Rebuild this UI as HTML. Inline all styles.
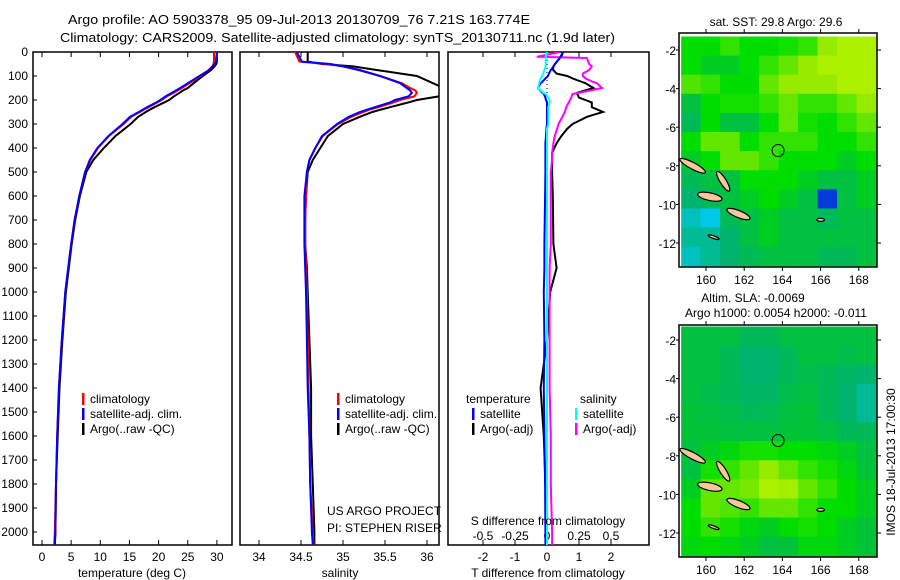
<!DOCTYPE html>
<html><head><meta charset="utf-8">
<style>
html,body{margin:0;padding:0;background:#fff;}
svg{display:block;font-family:"Liberation Sans",sans-serif;}
text{font-size:12px;fill:#000;}
</style></head>
<body>
<svg id="chart" width="900" height="580" viewBox="0 0 900 580" xmlns="http://www.w3.org/2000/svg">
<text x="68" y="24" textLength="462" lengthAdjust="spacingAndGlyphs" style="font-size:13px">Argo profile: AO 5903378_95 09-Jul-2013 20130709_76 7.21S 163.774E</text>
<text x="60" y="42" textLength="555" lengthAdjust="spacingAndGlyphs" style="font-size:13px">Climatology: CARS2009. Satellite-adjusted climatology: synTS_20130711.nc (1.9d later)</text>
<g id="g"></g>
</svg>
<script>
// ---- data ----
const depthTicks = [0,100,200,300,400,500,600,700,800,900,1000,1100,1200,1300,1400,1500,1600,1700,1800,1900,2000];
const tempTicks = [0,5,10,15,20,25,30];
const salTicks = [34,34.5,35,35.5,36];
const salTickLabels = ["34","34.5","35","35.5","36"];
const tdTicks = [-2,-1,0,1,2];
const sdTicks = [-0.5,-0.25,0,0.25,0.5];
const sdTickLabels = ["-0.5","-0.25","0","0.25","0.5"];

const profDepth = [0,40,50,60,75,100,130,150,160,170,185,200,210,230,240,250,270,300,350,400,450,500,600,700,800,900,1000,1200,1400,1600,1800,2000,2055];
const tempClim  = [29.5,29.5,29.4,29.2,28.6,27.2,25.3,24,23.3,22.6,21.4,20.5,19.8,18.3,17.5,16.8,15.3,14.0,11.5,9.6,8.3,7.4,6.4,5.6,5.0,4.5,4.0,3.4,2.9,2.6,2.4,2.2,2.1];
const tempSat   = [30.0,29.8,29.6,29.3,28.7,27.0,25.0,23.7,23.0,22.3,21.2,20.3,19.6,18.0,17.3,16.6,15.1,13.8,11.4,9.5,8.2,7.4,6.4,5.6,5.0,4.5,4.0,3.4,2.9,2.6,2.4,2.3,2.2];
const tempArgo  = [30.0,30.0,29.9,29.6,29.0,27.6,26.0,25.0,24.2,23.6,22.6,21.8,21.0,19.3,18.5,17.8,16.5,15.2,12.6,10.6,8.8,7.6,6.5,5.7,5.1,4.6,4.1,3.5,3.0,2.7,2.4,2.3,2.2];
const salClim   = [34.43,34.48,34.8,35.0,35.18,35.44,35.7,35.8,35.86,35.88,35.85,35.68,35.6,35.42,35.32,35.24,35.1,34.94,34.76,34.67,34.6,34.57,34.56,34.55,34.55,34.56,34.57,34.58,34.59,34.6,34.61,34.64,34.65];
const salSat    = [34.45,34.51,34.85,35.0,35.2,35.44,35.68,35.76,35.8,35.82,35.78,35.62,35.56,35.38,35.29,35.2,35.07,34.93,34.75,34.67,34.6,34.57,34.54,34.54,34.54,34.55,34.56,34.57,34.58,34.6,34.61,34.63,34.64];
const salArgo   = [34.58,34.58,34.75,35.12,35.4,35.88,36.07,36.2,36.25,36.25,36.14,35.88,35.78,35.56,35.45,35.35,35.2,35.0,34.82,34.73,34.64,34.58,34.56,34.55,34.55,34.57,34.58,34.6,34.62,34.62,34.64,34.66,34.66];

const diffDepth = [0,20,25,50,60,75,90,100,110,125,130,150,170,175,190,200,210,230,250,270,290,300,320,350,380,420,450,500,600,800,900,1000,1200,1400,1600,1800,2000,2055];
const tDiffSat  = [0.5,0.42,0.4,0.25,0.2,0.12,0.06,0.03,-0.05,-0.15,-0.2,-0.28,-0.15,-0.1,-0.05,-0.03,0,0,0,0,0,0,-0.02,-0.03,-0.05,-0.05,-0.05,-0.05,-0.06,-0.08,-0.08,-0.1,-0.08,-0.1,-0.08,-0.06,-0.05,-0.05];
const tDiffArgo = [0.5,0.45,0.4,0.25,0.2,0.19,0.3,0.63,0.8,1.1,1.2,1.45,0.95,0.95,1.0,1.2,1.4,1.4,1.75,1.25,0.95,0.8,0.63,0.45,0.3,0.16,0.16,0.16,0.18,0.2,0.3,0.1,0.0,-0.2,-0.1,-0.05,0.0,0.0];
const sDiffSat  = [0.0,-0.01,-0.01,-0.01,-0.01,-0.02,-0.03,-0.04,-0.05,-0.06,-0.06,-0.07,-0.03,-0.01,0.01,0.02,0.02,0.01,0.01,0.01,0.01,0.01,0.0,0.0,0.0,0.0,0.0,0.0,0.0,0.0,0.0,0.0,0.0,0.0,0.0,0.0,0.0,0.0];
const sDiffArgo = [0.1,-0.08,0.31,0.33,0.35,0.33,0.28,0.28,0.3,0.36,0.39,0.43,0.25,0.2,0.19,0.18,0.17,0.15,0.14,0.12,0.1,0.09,0.08,0.06,0.05,0.04,0.04,0.03,0.03,0.03,0.02,0.02,0.02,0.02,0.03,0.03,0.04,0.04];

const lonTicks = [160,162,164,166,168];
const latTicks = [-2,-4,-6,-8,-10,-12];
const gridLon0 = 158.7, gridLat0 = -1.3, gridStep = 1.02, gridLatStep = 0.99;
const sstGrid = [
 [0.7,0.7,0.75,0.7,0.7,0.72,0.75,0.85,0.9,0.9],
 [0.7,0.65,0.65,0.7,0.75,0.8,0.85,0.9,0.9,0.9],
 [0.78,0.75,0.7,0.7,0.8,0.85,0.85,0.85,0.9,0.9],
 [0.6,0.7,0.72,0.72,0.75,0.8,0.75,0.75,0.8,0.85],
 [0.55,0.7,0.6,0.6,0.7,0.8,0.72,0.7,0.75,0.8],
 [0.7,0.8,0.8,0.7,0.75,0.75,0.75,0.7,0.7,0.75],
 [0.65,0.7,0.8,0.8,0.75,0.7,0.7,0.7,0.65,0.7],
 [0.55,0.6,0.6,0.7,0.7,0.7,0.65,0.6,0.6,0.65],
 [0.5,0.55,0.6,0.65,0.7,0.65,0.6,0.2,0.6,0.65],
 [0.4,0.35,0.55,0.6,0.65,0.6,0.6,0.55,0.6,0.6],
 [0.45,0.45,0.5,0.6,0.65,0.6,0.6,0.6,0.6,0.6],
 [0.4,0.45,0.5,0.55,0.6,0.6,0.6,0.55,0.55,0.6]];
const slaGrid = [
 [0.6,0.6,0.6,0.55,0.55,0.6,0.6,0.6,0.6,0.6],
 [0.6,0.6,0.55,0.5,0.5,0.55,0.6,0.6,0.58,0.6],
 [0.6,0.6,0.55,0.5,0.5,0.55,0.58,0.55,0.52,0.5],
 [0.6,0.58,0.55,0.52,0.52,0.58,0.6,0.55,0.5,0.45],
 [0.62,0.6,0.58,0.55,0.56,0.6,0.62,0.55,0.5,0.45],
 [0.62,0.62,0.6,0.6,0.6,0.62,0.62,0.6,0.55,0.55],
 [0.6,0.65,0.68,0.72,0.72,0.7,0.7,0.68,0.65,0.6],
 [0.6,0.72,0.75,0.8,0.85,0.8,0.75,0.72,0.68,0.62],
 [0.65,0.8,0.8,0.82,0.9,0.88,0.8,0.75,0.7,0.65],
 [0.7,0.8,0.78,0.75,0.8,0.8,0.75,0.7,0.7,0.65],
 [0.7,0.75,0.72,0.68,0.65,0.7,0.72,0.7,0.65,0.62],
 [0.68,0.7,0.68,0.65,0.6,0.62,0.68,0.68,0.65,0.62]];
// islands: [lon, lat, halfLengthDeg, halfWidthDeg, angleDeg]
const islands = [[159.3,-8.0,0.75,0.17,28],[160.9,-8.8,0.6,0.16,58],[160.2,-9.6,0.65,0.2,12],[161.7,-10.5,0.65,0.18,22],[160.4,-11.7,0.3,0.07,20],[166,-10.8,0.2,0.08,0]];
const floatLon = 163.774, floatLat = -7.21;

// ---- helpers ----
const NS="http://www.w3.org/2000/svg";
const G=document.getElementById('g');
function mk(tag,attrs,parent){const e=document.createElementNS(NS,tag);for(const k in attrs)e.setAttribute(k,attrs[k]);(parent||G).appendChild(e);return e;}
function txt(s,x,y,anchor,extra){const t=mk('text',Object.assign({x:x,y:y,'text-anchor':anchor||'start'},extra||{}));t.textContent=s;return t;}

const yD = d => 52 + d*0.24;
const xT = t => 42 + t*5.83;
const xS = s => 259 + (s-34)*84;
const xTD = v => 547 + v*32;
const xSD = v => 547 + v*128;
const pTop=52,pBot=545;

function frame(x1,x2,name){
  const r=mk('rect',{x:x1,y:pTop,width:x2-x1,height:pBot-pTop,fill:'none',stroke:'#000','stroke-width':1.5});
  
  
}
function clipFor(id,x1,x2){const cp=mk('clipPath',{id:id});mk('rect',{x:x1,y:pTop,width:x2-x1,height:pBot-pTop},cp);}
function line(xs,ds,xf,color,name,clip,w){
  const pts=xs.map((v,i)=>xf(v).toFixed(1)+','+yD(ds[i]).toFixed(1)).join(' ');
  const p=mk('polyline',{points:pts,fill:'none',stroke:color,'stroke-width':w||2,'clip-path':'url(#'+clip+')'});
  
  
}
function xticks(vals,labels,xf,ylab,name){
  vals.forEach((v,i)=>{const x=xf(v);
    mk('line',{x1:x,x2:x,y1:pTop,y2:pTop+5,stroke:'#000'});
    mk('line',{x1:x,x2:x,y1:pBot,y2:pBot-5,stroke:'#000'});
    if(ylab){const t=txt(labels[i],x,ylab,'middle');
      
      }
  });
}
function legendBar(x,y,color){mk('rect',{x:x,y:y-10,width:2.5,height:12,fill:color});}

// panel 1: temperature
clipFor('c1',33,232); frame(33,232,'temperature-panel');
depthTicks.forEach(d=>{const y=yD(d);mk('line',{x1:33,x2:37,y1:y,y2:y,stroke:'#000'});
  const t=txt(String(d),28,y+4,'end');
  
  });
xticks(tempTicks,tempTicks.map(String),xT,561,'temperature');
line(tempArgo,profDepth,xT,'#000','temp-argo-line','c1');
line(tempClim,profDepth,xT,'#f00','temp-climatology-line','c1');
line(tempSat,profDepth,xT,'#00f','temp-satellite-line','c1');
let t=txt('temperature (deg C)',132,577,'middle');

// panel 2: salinity
clipFor('c2',240,439); frame(240,439,'salinity-panel');
xticks(salTicks,salTickLabels,xS,561,'salinity');
line(salArgo,profDepth,xS,'#000','sal-argo-line','c2');
line(salClim,profDepth,xS,'#f00','sal-climatology-line','c2');
line(salSat,profDepth,xS,'#00f','sal-satellite-line','c2');
t=txt('salinity',340,577,'middle');

// legends p1/p2
[[82,90],[337,345]].forEach(([bx,tx],k)=>{
  const names=['climatology','satellite-adj. clim.','Argo(..raw -QC)'];const cols=['#f00','#00f','#000'];
  names.forEach((n,i)=>{const y=403+i*15;legendBar(bx,y,cols[i]);
    const e=txt(n,tx,y,'start');});
});
t=txt('US ARGO PROJECT',327,515);
t=txt('PI: STEPHEN RISER',327,532);

// panel 3: differences
clipFor('c3',448,649); frame(448,649,'difference-panel');
xticks(tdTicks,tdTicks.map(String),xTD,561,'t-diff');
sdTicks.forEach((v,i)=>{const e=txt(sdTickLabels[i],xSD(v),540,'middle');});
mk('line',{x1:xTD(0),x2:xTD(0),y1:pTop,y2:pBot,stroke:'#000','stroke-dasharray':'1,3','stroke-width':1});
line(tDiffArgo,diffDepth,xTD,'#000','tdiff-argo-line','c3');
line(sDiffArgo,diffDepth,xSD,'#f0f','sdiff-argo-line','c3');
line(tDiffSat,diffDepth,xTD,'#00f','tdiff-satellite-line','c3');
line(sDiffSat,diffDepth,xSD,'#0ff','sdiff-satellite-line','c3');
t=txt('S difference from climatology',548,525,'middle');
t=txt('T difference from climatology',548,577,'middle');
t=txt('temperature',466,403);
t=txt('salinity',580,403);
[[472,480,'#00f','satellite'],[472,480,'#000','Argo(-adj)'],[575,583,'#0ff','satellite'],[575,583,'#f0f','Argo(-adj)']].forEach((e,i)=>{
  const y=418+(i%2)*15;legendBar(e[0],y,e[2]);const q=txt(e[3],e[1],y);
  });

// ---- maps ----
function color(v){
  const stops=[[0,[0,0,120]],[0.2,[0,60,220]],[0.35,[0,200,230]],[0.5,[0,180,110]],[0.62,[0,195,55]],[0.7,[0,222,0]],[0.85,[150,235,0]],[1,[215,255,0]]];
  for(let i=1;i<stops.length;i++){if(v<=stops[i][0]){const a=stops[i-1],b=stops[i],f=(v-a[0])/(b[0]-a[0]);
    return 'rgb('+a[1].map((c,j)=>Math.round(c+(b[1][j]-c)*f)).join(',')+')';}}
  return 'rgb(215,255,0)';
}
function map(y0,y1,lat2y,grid,name,id){
  const mx0=679,mx1=877;
  const lx = lon => 706 + (lon-160)*19.1;
  const cp=mk('clipPath',{id:id});mk('rect',{x:mx0,y:y0,width:mx1-mx0,height:y1-y0},cp);
  const g=mk('g',{'clip-path':'url(#'+id+')'});
  
  
  grid.forEach((row,r)=>row.forEach((v,c)=>{
    const xa=lx(gridLon0+c*gridStep),xb=lx(gridLon0+(c+1)*gridStep);
    const ya=lat2y(gridLat0-r*gridLatStep),yb=lat2y(gridLat0-(r+1)*gridLatStep);
    const cell=mk('rect',{x:xa,y:ya,width:xb-xa+0.5,height:yb-ya+0.5,fill:color(v)},g);
    
    
  }));
  islands.forEach(is=>{
    const cx=lx(is[0]),cy=lat2y(is[1]);
    const el=mk('ellipse',{cx:cx,cy:cy,rx:is[2]*19.1,ry:is[3]*19.3,fill:'#f8c898',stroke:'#000','stroke-width':1.2,transform:'rotate('+is[4]+' '+cx+' '+cy+')'},g);
    
    
  });
  const c=mk('circle',{cx:lx(floatLon),cy:lat2y(floatLat),r:6,fill:'none',stroke:'#000','stroke-width':1});
  
  
  mk('rect',{x:mx0,y:y0,width:mx1-mx0,height:y1-y0,fill:'none',stroke:'#000','stroke-width':1.5});
  lonTicks.forEach(l=>{const x=lx(l);mk('line',{x1:x,x2:x,y1:y0,y2:y0-4,stroke:'#000'});mk('line',{x1:x,x2:x,y1:y1,y2:y1+4,stroke:'#000'});
    const e=txt(String(l),x,y1+17,'middle');});
  latTicks.forEach(l=>{const y=lat2y(l);mk('line',{x1:mx0,x2:mx0-3,y1:y,y2:y,stroke:'#000'});mk('line',{x1:mx1,x2:mx1+4,y1:y,y2:y,stroke:'#000'});
    const e=txt(String(l),676,y+5,'end');});
}
map(33,267,lat=>50+(-2-lat)*19.3,sstGrid,'sst-map','cm1');
map(325,557,lat=>340+(-2-lat)*19.3,slaGrid,'sla-map','cm2');
t=txt('sat. SST: 29.8 Argo: 29.6',776,26,'middle');
t=txt('Altim. SLA: -0.0069',753,302,'middle');
t=txt('Argo h1000: 0.0054 h2000: -0.011',776,317,'middle');
t=txt('IMOS 18-Jul-2013 17:00:30',0,0,'middle',{transform:'translate(895,462) rotate(-90)'});
</script>
</body></html>
